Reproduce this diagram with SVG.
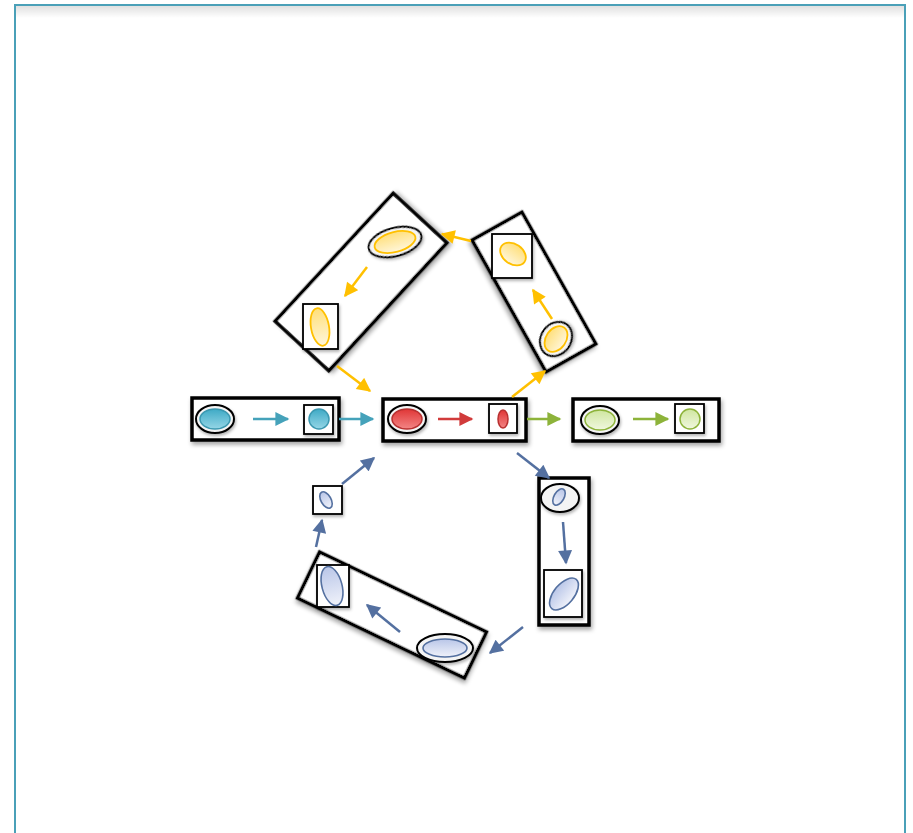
<svg xmlns="http://www.w3.org/2000/svg" width="913" height="833" viewBox="0 0 913 833">
<style>
.box{fill:#fff;stroke:#000;stroke-width:3.5;filter:url(#sh)}
.sq{fill:#fff;stroke:#000;stroke-width:1.8;filter:url(#sh2)}
.ring{fill:#f4f4f4;stroke:#000;stroke-width:2;filter:url(#sh2)}
.c{stroke:#3B98B0;stroke-width:1.5;fill:url(#gc)}
.r{stroke:#B83030;stroke-width:1.5;fill:url(#gr)}
.g{stroke:#8DB33A;stroke-width:1.5;fill:url(#gg)}
.y{stroke:#FFC000;stroke-width:1.8;fill:url(#gy)}
.b{stroke:#5470A0;stroke-width:1.6;fill:url(#gb)}
.ac{stroke:#45A2BA;stroke-width:2.5;fill:none;marker-end:url(#mc)}
.ar{stroke:#D13B3B;stroke-width:2.5;fill:none;marker-end:url(#mr)}
.ag{stroke:#8DB33A;stroke-width:2.5;fill:none;marker-end:url(#mg)}
.ay{stroke:#FFC000;stroke-width:2.5;fill:none;marker-end:url(#my)}
.ab{stroke:#5470A0;stroke-width:2.5;fill:none;marker-end:url(#mb)}
</style>
<defs>
<filter id="sh" x="-20%" y="-20%" width="140%" height="150%"><feDropShadow dx="1.5" dy="3" stdDeviation="2.2" flood-color="#000" flood-opacity="0.35"/></filter>
<filter id="sh2" x="-30%" y="-30%" width="160%" height="170%"><feDropShadow dx="1" dy="2" stdDeviation="1.5" flood-color="#000" flood-opacity="0.3"/></filter>
<linearGradient id="gc" x1="0" y1="0" x2="0" y2="1"><stop offset="0" stop-color="#3FAAC6"/><stop offset="1" stop-color="#95D6E6"/></linearGradient>
<linearGradient id="gr" x1="0" y1="0" x2="0" y2="1"><stop offset="0" stop-color="#E03636"/><stop offset="1" stop-color="#F38585"/></linearGradient>
<linearGradient id="gg" x1="0" y1="0" x2="0" y2="1"><stop offset="0" stop-color="#CFE6A0"/><stop offset="1" stop-color="#F0F7DE"/></linearGradient>
<linearGradient id="gy" x1="0" y1="0" x2="0" y2="1"><stop offset="0" stop-color="#FFDF7A"/><stop offset="1" stop-color="#FFF6DA"/></linearGradient>
<linearGradient id="gb" x1="0" y1="0" x2="0" y2="1"><stop offset="0" stop-color="#B9C6E8"/><stop offset="1" stop-color="#F0F2FA"/></linearGradient>
<linearGradient id="top" x1="0" y1="0" x2="0" y2="1"><stop offset="0" stop-color="#000" stop-opacity="0.12"/><stop offset="1" stop-color="#000" stop-opacity="0"/></linearGradient>
<marker id="mc" viewBox="0 0 10 10" refX="9" refY="5" markerWidth="15" markerHeight="14" markerUnits="userSpaceOnUse" orient="auto"><path d="M0,0 L10,5 L0,10 z" fill="#45A2BA"/></marker>
<marker id="mr" viewBox="0 0 10 10" refX="9" refY="5" markerWidth="15" markerHeight="14" markerUnits="userSpaceOnUse" orient="auto"><path d="M0,0 L10,5 L0,10 z" fill="#D13B3B"/></marker>
<marker id="mg" viewBox="0 0 10 10" refX="9" refY="5" markerWidth="15" markerHeight="14" markerUnits="userSpaceOnUse" orient="auto"><path d="M0,0 L10,5 L0,10 z" fill="#8DB33A"/></marker>
<marker id="my" viewBox="0 0 10 10" refX="9" refY="5" markerWidth="15" markerHeight="14" markerUnits="userSpaceOnUse" orient="auto"><path d="M0,0 L10,5 L0,10 z" fill="#FFC000"/></marker>
<marker id="mb" viewBox="0 0 10 10" refX="9" refY="5" markerWidth="15" markerHeight="14" markerUnits="userSpaceOnUse" orient="auto"><path d="M0,0 L10,5 L0,10 z" fill="#5470A0"/></marker>
</defs>
<rect width="913" height="833" fill="#fff"/>
<g id="frame">
<rect x="16" y="6" width="888" height="12" fill="url(#top)"/>
<rect x="15" y="5" width="890" height="840" fill="none" stroke="#4AA0B8" stroke-width="2"/>
</g>

<g id="node-cyan">
<rect class="box" x="192" y="398" width="147" height="42"/>
<ellipse class="ring" cx="215" cy="419" rx="19" ry="14"/>
<ellipse class="c" cx="215" cy="419" rx="15" ry="10"/>
<line class="ac" x1="253" y1="419" x2="288" y2="419"/>
<rect class="sq" x="304" y="405" width="29" height="29"/>
<circle class="c" cx="319" cy="419" r="10"/>
</g>

<g id="node-red">
<rect class="box" x="383" y="399" width="143" height="42"/>
<ellipse class="ring" cx="407" cy="419" rx="19" ry="14"/>
<ellipse class="r" cx="407" cy="419" rx="15" ry="10"/>
<line class="ar" x1="438" y1="419" x2="472" y2="419"/>
<rect class="sq" x="489" y="404" width="28" height="29"/>
<ellipse class="r" cx="503" cy="419" rx="5" ry="9"/>
</g>

<g id="node-green">
<rect class="box" x="573" y="399" width="146" height="42"/>
<ellipse class="ring" cx="600" cy="420" rx="19" ry="14"/>
<ellipse class="g" cx="600" cy="420" rx="15" ry="10"/>
<line class="ag" x1="633" y1="419" x2="668" y2="419"/>
<rect class="sq" x="675" y="404" width="29" height="29"/>
<circle class="g" cx="690" cy="419" r="10"/>
</g>

<g id="node-yellow-left">
<rect class="box" transform="translate(361,282) rotate(-47.3)" x="-87" y="-36.5" width="174" height="73"/>
<ellipse class="ring" transform="translate(395,242) rotate(-15)" rx="27" ry="14"/>
<ellipse class="y" transform="translate(395,242) rotate(-15)" rx="21" ry="10"/>
<line class="ay" x1="367" y1="267" x2="345" y2="296"/>
<rect class="sq" x="303" y="304" width="35" height="45"/>
<ellipse class="y" transform="translate(320,327) rotate(-10)" rx="9" ry="19"/>
</g>

<g id="node-yellow-right">
<rect class="box" transform="translate(534,292) rotate(60.7)" x="-75.5" y="-28.5" width="151" height="57"/>
<rect class="sq" x="492" y="234" width="40" height="44"/>
<ellipse class="y" transform="translate(513,254) rotate(35)" rx="14" ry="10"/>
<line class="ay" x1="552" y1="319" x2="533" y2="290"/>
<ellipse class="ring" transform="translate(556,339) rotate(-55)" rx="18" ry="15"/>
<ellipse class="y" transform="translate(556,339) rotate(-55)" rx="14" ry="10"/>
</g>

<g id="node-blue-right">
<rect class="box" x="539" y="478" width="50" height="147"/>
<ellipse class="ring" cx="560" cy="498" rx="19" ry="14"/>
<ellipse class="b" transform="translate(559,497) rotate(30)" rx="5" ry="9"/>
<line class="ab" x1="563" y1="522" x2="566" y2="563"/>
<rect class="sq" x="544" y="570" width="38" height="47"/>
<ellipse class="b" transform="translate(564,594) rotate(-50)" rx="19" ry="10"/>
</g>

<g id="node-blue-bottom">
<rect class="box" transform="translate(392,615) rotate(25.6)" x="-92.5" y="-25.5" width="185" height="51"/>
<rect class="sq" x="317" y="565" width="32" height="42"/>
<ellipse class="b" transform="translate(332,586) rotate(-15)" rx="10" ry="20"/>
<line class="ab" x1="400" y1="632" x2="367" y2="605"/>
<ellipse class="ring" cx="445" cy="648" rx="28" ry="14"/>
<ellipse class="b" cx="445" cy="648" rx="22" ry="9"/>
</g>

<g id="node-blue-small">
<rect class="sq" x="313" y="486" width="29" height="28"/>
<ellipse class="b" transform="translate(326,500) rotate(-30)" rx="5" ry="9"/>
</g>

<g id="connectors">
<line class="ac" x1="339" y1="419" x2="373" y2="419"/>
<line class="ag" x1="527" y1="419" x2="560" y2="419"/>
<line class="ay" x1="512" y1="397" x2="545" y2="371"/>
<line class="ay" x1="471" y1="241" x2="442" y2="234"/>
<line class="ay" x1="337" y1="366" x2="370" y2="391"/>
<line class="ab" x1="517" y1="453" x2="549" y2="478"/>
<line class="ab" x1="523" y1="627" x2="490" y2="653"/>
<line class="ab" x1="316" y1="547" x2="322" y2="520"/>
<line class="ab" x1="342" y1="484" x2="374" y2="458"/>
</g>
</svg>
